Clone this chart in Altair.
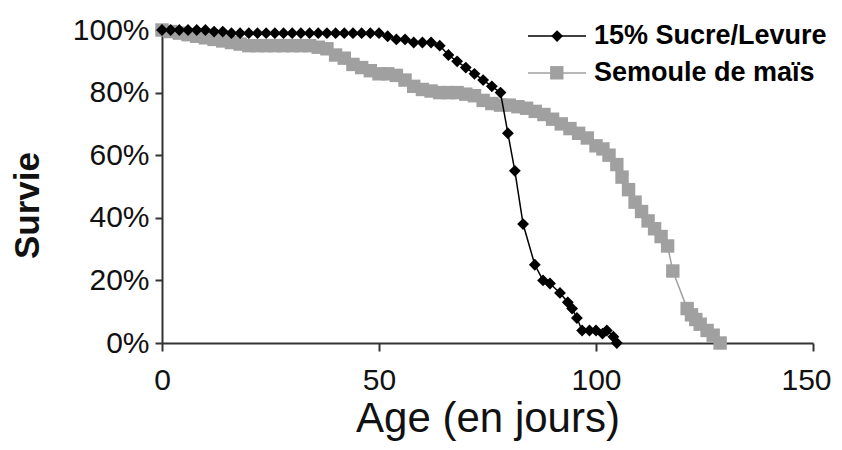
import altair as alt
import pandas as pd
import math

# Series 1: 15% Sucre/Levure (black diamonds)
sucre_days = [0, 2, 4, 6, 8, 10, 12, 14, 16, 18, 20, 22, 24, 26, 28, 30, 32, 34, 36, 38,
              40, 42, 44, 46, 48, 50, 52, 54, 56, 58, 60, 62, 64, 66, 68, 70, 72, 74, 76, 78,
              79.7, 81.3, 83.2, 85.9, 87.8, 89.4, 91.7, 93.5, 94.5, 95.6, 96.8, 98.5, 100,
              101.5, 102.5, 104, 104.8]
sucre_surv = [100, 100, 100, 100, 100, 100, 99.5, 99.5, 99, 99, 99, 99, 99, 99, 99, 99, 99, 99, 99, 99,
              99, 99, 99, 99, 99, 99, 98, 97, 97, 96, 96, 96, 95, 92, 90, 88, 86, 84, 82, 80,
              67, 55, 38, 25, 20, 19, 16, 13, 11, 8, 4, 4, 4,
              3, 4, 2, 0]

# Series 2: Semoule de maïs (grey squares)
semoule_days = [0, 2, 4, 6, 8, 10, 12, 14, 16, 18, 20, 22, 24, 26, 28, 30, 32, 34, 36, 38,
                40, 42, 44, 46, 48, 50, 52, 54, 56, 58, 60, 62, 64, 66, 68, 70, 72, 74, 76, 78,
                80, 82, 84, 86, 88, 90, 92, 94, 96, 98, 100, 101.6, 103, 104.8, 106, 107.5, 109,
                110.5, 112, 113.5, 115, 116.5, 117.7, 121, 122, 123, 124, 125.6, 127, 128.6]
semoule_surv = [100, 99.5, 99, 98.5, 98, 97.5, 97, 96.5, 96, 95.5, 95, 95, 95, 95, 95, 95, 95, 95, 94.5, 94,
                92, 91, 89, 88, 87, 86, 86, 85.5, 84, 82, 81, 80.5, 80, 80, 80, 79.5, 79, 77.5, 76.5, 76,
                76, 75.5, 75, 74, 73, 71.5, 70, 68.5, 67, 65.5, 63, 62, 60, 57, 53, 49, 45,
                42, 39, 36.5, 34, 31, 23, 11, 9, 7.5, 6, 4, 2.5, 0]

series_names = ["15% Sucre/Levure", "Semoule de maïs"]
series_colors = ["#000000", "#a0a0a0"]
series_shapes = ["diamond", "square"]
marker_sizes = [140, 180]

df_s = pd.DataFrame({"age": sucre_days, "survie": sucre_surv, "serie": series_names[0]})
df_m = pd.DataFrame({"age": semoule_days, "survie": semoule_surv, "serie": series_names[1]})
df_all = pd.concat([df_s, df_m], ignore_index=True)

FONT = "Liberation Sans"

x_enc = alt.X("age:Q", scale=alt.Scale(domain=[0, 150], nice=False),
              axis=alt.Axis(values=[0, 50, 100, 150], title="Age (en jours)",
                            titleFontSize=42, titleFontWeight="normal", titleFont=FONT,
                            titleX=325.5, titleY=75, titleAlign="center", titleBaseline="middle",
                            labelFontSize=30, labelFont=FONT, labelPadding=14,
                            labelOffset={"condition": {"test": "datum.value === 150", "value": -7},
                                         "value": 0},
                            tickSize=8, labelFlush=False))
y_enc = alt.Y("survie:Q", scale=alt.Scale(domain=[0, 100], nice=False),
              axis=alt.Axis(values=[0, 20, 40, 60, 80, 100], labelExpr="datum.value + '%'",
                            title="Survie", titleFontSize=35, titleFontWeight="bold", titleFont=FONT,
                            titleX=-135, titleY=175, titleAngle=270, titleAlign="center",
                            titleBaseline="middle",
                            labelFontSize=30, labelFont=FONT, labelPadding=6,
                            tickSize=7))

base_m = alt.Chart(df_m)
base_s = alt.Chart(df_s)

line_m = base_m.mark_line(color=series_colors[1], strokeWidth=1.5).encode(x=x_enc, y=y_enc)
pts_m = base_m.mark_point(shape=series_shapes[1], filled=True, color=series_colors[1],
                          size=marker_sizes[1], opacity=1).encode(x="age:Q", y="survie:Q")
line_s = base_s.mark_line(color=series_colors[0], strokeWidth=1.5).encode(x="age:Q", y="survie:Q")
pts_s = base_s.mark_point(shape=series_shapes[0], filled=True, color=series_colors[0],
                          size=marker_sizes[0], opacity=1).encode(x="age:Q", y="survie:Q")

LEG_X = 365       # left of legend line, relative to plot
LINE_LEN = 58     # legend line length
row_centers = [5, 42]


def legend_line(i):
    return alt.Chart(df_all).transform_filter("false").mark_line(strokeWidth=1.5).encode(
        x="age:Q", y="survie:Q",
        stroke=alt.Stroke("serie:N", scale=alt.Scale(domain=[series_names[i]],
                                                     range=[series_colors[i]]),
                          legend=alt.Legend(orient="none", legendX=LEG_X,
                                            legendY=row_centers[i] - LINE_LEN / 2,
                                            title=None, symbolType="stroke",
                                            symbolSize=LINE_LEN * LINE_LEN,
                                            symbolStrokeWidth=1.5,
                                            labelFontSize=27, labelFont=FONT,
                                            labelFontWeight="bold", labelColor="#000",
                                            labelOffset=7, padding=0, labelLimit=400))
    )


def legend_marker(i):
    half = math.sqrt(marker_sizes[i]) / 2
    return alt.Chart(df_all).transform_filter("false").mark_point(
        filled=True, color=series_colors[i], opacity=1
    ).encode(
        x="age:Q", y="survie:Q",
        shape=alt.Shape("serie:N", scale=alt.Scale(domain=[series_names[i]],
                                                   range=[series_shapes[i]]),
                        legend=alt.Legend(orient="none", legendX=LEG_X + LINE_LEN / 2 - half,
                                          legendY=row_centers[i] - half,
                                          title=None, symbolSize=marker_sizes[i],
                                          symbolFillColor=series_colors[i],
                                          symbolStrokeColor=series_colors[i],
                                          symbolOpacity=1,
                                          labelFontSize=1, labelOpacity=0, labelExpr="''",
                                          padding=0))
    )


chart = alt.layer(line_m, pts_m, line_s, pts_s,
                  legend_line(0), legend_line(1), legend_marker(0), legend_marker(1)
                  ).resolve_scale(shape="independent", stroke="independent"
                  ).resolve_legend(shape="independent", stroke="independent").properties(
    width=651, height=313,
    padding={"left": 154, "top": 22, "right": 21, "bottom": 99},
    autosize=alt.AutoSizeParams(type="none"),
    background="white",
).configure_view(stroke=None).configure_axis(
    grid=False, domainColor="#333333", domainWidth=2, tickColor="#333333", tickWidth=2,
    labelColor="#111111", titleColor="#111111"
)

chart.save("out.html", embed_options={"renderer": "svg", "actions": False})
